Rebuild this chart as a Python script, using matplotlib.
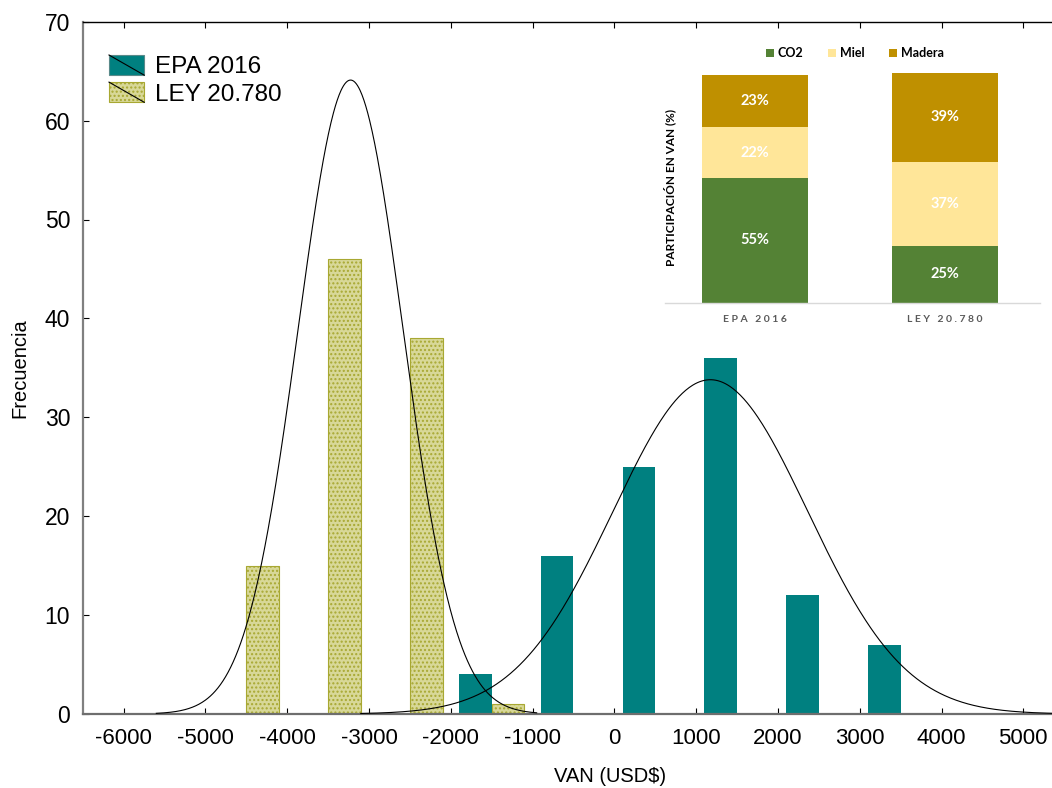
import numpy as np
import matplotlib
matplotlib.use("Agg")
import matplotlib.pyplot as plt
from matplotlib.patches import Rectangle
from matplotlib.lines import Line2D
from matplotlib.legend_handler import HandlerBase

# ---- histogram data (VAN in USD$) ----
ley_centers = [-4300, -3300, -2300, -1300]
ley_counts = [15, 46, 38, 1]
epa_centers = [-1700, -700, 300, 1300, 2300, 3300]
epa_counts = [4, 16, 25, 36, 12, 7]

# fitted normal curves: (peak height, mean, std. dev., drawn range)
ley_fit = (64.1, -3225, 642, (-5600, -950))
epa_fit = (33.8, 1174, 1190, (-3100, 5400))

x_ticks = list(range(-6000, 5001, 1000))
y_ticks = list(range(0, 71, 10))

# ---- inset: share of VAN by product ----
inset_groups = ["EPA 2016", "LEY 20.780"]
inset_products = ["CO2", "Miel", "Madera"]
share_co2 = [55, 25]
share_miel = [22, 37]
share_madera = [23, 39]

W, H = 1052, 788
plt.rcParams["font.family"] = ["Liberation Sans", "DejaVu Sans"]

fig = plt.figure(figsize=(W / 100, H / 100), dpi=100)
fig.patch.set_facecolor("white")


def fx(px):
    return px / W


def fy(py):
    return 1 - py / H


ax_l, ax_r, ax_t, ax_b = 82.7, 1064.2, 21.7, 714.0
ax = fig.add_axes([fx(ax_l), fy(ax_b), (ax_r - ax_l) / W, (ax_b - ax_t) / H])

teal = "#008080"
ley_face = "#d8d898"
ley_edge = "#a8a832"

ax.bar(ley_centers, ley_counts, width=400, facecolor=ley_face,
       edgecolor=ley_edge, linewidth=0.8, hatch="....", zorder=2)
ax.bar(epa_centers, epa_counts, width=400, facecolor=teal,
       edgecolor="none", zorder=2)


def normal_curve(fit):
    peak, mu, sd, (lo, hi) = fit
    xs = np.linspace(lo, hi, 600)
    return xs, peak * np.exp(-0.5 * ((xs - mu) / sd) ** 2)


for fit in (ley_fit, epa_fit):
    xs, ys = normal_curve(fit)
    ax.plot(xs, ys, color="black", lw=0.8, zorder=3, clip_on=False)

ax.set_xlim(-6500, 5500)
ax.set_ylim(0, 70)
ax.set_xticks(x_ticks)
ax.set_xticklabels([str(v) for v in x_ticks])
ax.set_yticks(y_ticks)

ax.tick_params(axis="x", direction="in", length=4, width=0.8, top=True,
               labelsize=16, pad=10, colors="black")
ax.tick_params(axis="y", direction="in", length=4, width=0.8,
               labelsize=16.5, pad=9, colors="black")

ax.spines["left"].set_color("#808080")
ax.spines["left"].set_linewidth(1.6)
ax.spines["bottom"].set_color("#6e6e6e")
ax.spines["bottom"].set_linewidth(1.6)
ax.spines["top"].set_color("black")
ax.spines["top"].set_linewidth(1.0)
ax.spines["right"].set_color("black")

fig.text(fx(20), fy(368), "Frecuencia", rotation=90, ha="center",
         va="center", fontsize=14.5)
fig.text(fx(610), fy(776), "VAN (USD$)", ha="center", va="center",
         fontsize=14.5)


# legend: coloured box crossed by a diagonal line
class DiagonalBoxHandler(HandlerBase):
    def create_artists(self, legend, orig_handle, xdescent, ydescent,
                       width, height, fontsize, trans):
        box = Rectangle((-xdescent, -ydescent), width, height,
                        facecolor=orig_handle.get_facecolor(),
                        edgecolor=orig_handle.get_edgecolor(),
                        hatch=orig_handle.get_hatch(), lw=0.8,
                        transform=trans)
        line = Line2D([-xdescent, -xdescent + width],
                      [-ydescent + height, -ydescent],
                      color="black", lw=0.8, transform=trans)
        return [box, line]


h_epa = Rectangle((0, 0), 1, 1, facecolor=teal, edgecolor="#5a8a8a")
h_ley = Rectangle((0, 0), 1, 1, facecolor=ley_face, edgecolor=ley_edge,
                  hatch="....")
leg = ax.legend([h_epa, h_ley], ["EPA 2016", "LEY 20.780"],
                handler_map={Rectangle: DiagonalBoxHandler()},
                loc="upper left", bbox_to_anchor=(fx(109), fy(55)),
                bbox_transform=fig.transFigure, frameon=False,
                fontsize=17.5, handlelength=1.45, handleheight=0.9,
                handletextpad=0.45, labelspacing=0.15, borderpad=0,
                borderaxespad=0)

# ---- inset stacked bars ----
in_l, in_r, in_t, in_b = 665, 1040, 40, 303
ins = fig.add_axes([fx(in_l), fy(in_b), (in_r - in_l) / W, (in_b - in_t) / H])
ins.set_facecolor("none")
ins.set_xlim(-0.474, 1.5)
ins.set_ylim(0, (in_b - in_t) / 2.28)

inset_font = ["Lato", "DejaVu Sans"]
colors = {"CO2": "#548235", "Miel": "#ffe699", "Madera": "#bf9000"}
xpos = np.arange(len(inset_groups))
bottom = np.zeros(len(inset_groups))
for name, vals in zip(inset_products, [share_co2, share_miel, share_madera]):
    vals = np.array(vals, dtype=float)
    ins.bar(xpos, vals, bottom=bottom, width=0.558, color=colors[name],
            edgecolor="none", label=name)
    for xi, b, v in zip(xpos, bottom, vals):
        ins.text(xi, b + v / 2, f"{int(v)}%", ha="center", va="center",
                 color="white", fontsize=10.5, fontweight="bold",
                 family=inset_font)
    bottom += vals

for s in ("left", "right", "top"):
    ins.spines[s].set_visible(False)
ins.spines["bottom"].set_color("#d9d9d9")
ins.spines["bottom"].set_linewidth(1.0)
ins.set_yticks([])
ins.set_xticks(xpos)
ins.set_xticklabels([" ".join(g) for g in inset_groups], color="#595959",
                    fontsize=7.5, fontweight="bold", family=inset_font)
ins.tick_params(axis="x", length=0, pad=9)

fig.text(fx(670), fy(188), "PARTICIPACIÓN EN VAN (%)", rotation=90,
         ha="center", va="center", fontsize=8.5, fontweight="bold",
         family=inset_font)

ins.legend(loc="upper center", bbox_to_anchor=(fx(855), fy(41)),
           bbox_transform=fig.transFigure, ncol=3, frameon=False,
           prop={"family": inset_font, "weight": "bold", "size": 9},
           handlelength=0.6, handleheight=0.6, handletextpad=0.3,
           columnspacing=2.0, borderpad=0)

fig.savefig("out.png", dpi=100)
